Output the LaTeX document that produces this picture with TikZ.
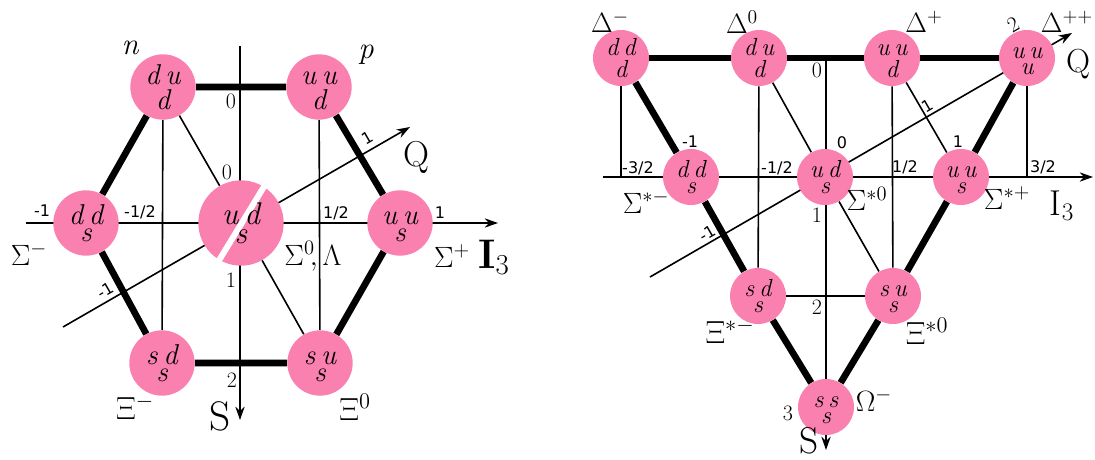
\RequirePackage{fix-cm}
\documentclass[tikz,border=0pt]{standalone}
\usepackage{fontspec}
\usepackage{amsmath}
\usetikzlibrary{arrows.meta, backgrounds}
\newfontfamily\ticksans{DejaVu Sans}
\definecolor{quarkpink}{RGB}{250,128,176}
\newcommand{\quarks}[3]{\shortstack{\itshape\vphantom{d}#1\hspace{0.2em}#2\\[0.5pt]\itshape #3}}

\begin{document}
\begin{tikzpicture}[x=0.75pt, y=-0.75pt,
  baryon/.style={circle, fill=quarkpink, inner sep=0pt, minimum size=49pt, font=\fontsize{21.5}{24}\selectfont},
  bigbaryon/.style={baryon, minimum size=64pt},
  decbaryon/.style={baryon, minimum size=42pt, font=\fontsize{18.5}{21}\selectfont},
  heavy/.style={line width=5pt},
  thinline/.style={line width=1.2pt},
  axis/.style={line width=1.2pt, -{Stealth[length=10pt, width=7pt]}},
  isolab/.style={font=\ticksans\fontsize{12}{14}\selectfont, inner sep=0pt},
  strlab/.style={font=\fontsize{16.5}{18}\selectfont, inner sep=0pt},
  partlab/.style={font=\fontsize{22}{24}\selectfont, inner sep=0pt},
  axislab/.style={font=\fontsize{28}{30}\selectfont, inner sep=0pt}]
  \useasboundingbox (0,0) rectangle (1095,460);

  % ===== octet =====
  \node[baryon] (n) at (163,87) {\quarks{d}{u}{d}};
  \node[baryon] (p) at (319,87) {\quarks{u}{u}{d}};
  \node[baryon] (sigm) at (86,223) {\quarks{d}{d}{s}};
  \node[baryon] (sigp) at (400,223) {\quarks{u}{u}{s}};
  \node[baryon] (xim) at (162,363) {\quarks{s}{d}{s}};
  \node[baryon] (xi0) at (320,363) {\quarks{s}{u}{s}};

  % Sigma0 and Lambda share the centre
  \node[bigbaryon] (lam) at (241,223) {};
  \draw[white, line width=4.5pt, line cap=round] (265,185) -- (218,262);
  \node[font=\fontsize{23.5}{26}\selectfont, inner sep=0pt] (lamtxt) at (lam) {\quarks{u}{d}{s}};

  % axes
  \coordinate (oi3a) at (26,223);
  \coordinate (oi3b) at (498,223);
  \coordinate (osa) at (240,46);
  \coordinate (osb) at (240,420);
  \coordinate (oqa) at (63,327);
  \coordinate (oqb) at (410,127);

  \begin{scope}[on background layer]
    \draw[axis] (oi3a) -- (oi3b);
    \draw[axis] (osa) -- (osb);
    \draw[axis] (oqa) -- (oqb);
    \draw[thinline] (n) -- (xim);
    \draw[thinline] (p) -- (xi0);
    \draw[thinline] (n) -- (lam) -- (xi0);
    \draw[heavy] (n) -- (p) -- (sigp) -- (xi0) -- (xim) -- (sigm) -- (n);
  \end{scope}

  % values
  \node[isolab] (ot1) at (42,211) {-1};
  \node[isolab] (ot2) at (140,212) {-1/2};
  \node[isolab] (ot3) at (336,213) {1/2};
  \node[isolab] (ot4) at (440,213) {1};
  \node[strlab] (os0) at (231,101) {0};
  \node[strlab] (oq0) at (227,172) {0};
  \node[strlab] (os1) at (231,280) {1};
  \node[strlab] (os2) at (232,380) {2};
  \node[isolab, rotate=30] (oq1) at (367,138) {1};
  \node[isolab, rotate=30] (oqm) at (105,290) {-1};

  % names
  \node[partlab, font=\fontsize{23}{25}\selectfont\itshape] (ln) at (130,48) {n};
  \node[partlab, font=\fontsize{23}{25}\selectfont\itshape] (lp) at (366,55) {p};
  \node[partlab] (lsigm) at (29,254) {$\Sigma^-$};
  \node[partlab] (llam) at (313,256) {$\Sigma^0\!,\Lambda$};
  \node[partlab] (lsigp) at (452,256) {$\Sigma^+$};
  \node[partlab, font=\fontsize{24}{26}\selectfont] (lxim) at (135,407) {$\Xi^-$};
  \node[partlab, font=\fontsize{24}{26}\selectfont] (lxi0) at (355,407) {$\Xi^0$};
  \node[axislab, font=\fontsize{31}{33}\selectfont] (os) at (220,416) {S};
  \node[axislab, font=\fontsize{27}{29}\selectfont] (oq) at (416,157) {Q};
  \node[axislab, font=\fontsize{31}{33}\selectfont] (oi3) at (494,257) {\textbf{I}$_3$};

  % ===== decuplet =====
  \node[decbaryon] (dm) at (621,58) {\quarks{d}{d}{d}};
  \node[decbaryon] (d0) at (759,58) {\quarks{d}{u}{d}};
  \node[decbaryon] (dp) at (892,58) {\quarks{u}{u}{d}};
  \node[decbaryon] (dpp) at (1027,58) {\quarks{u}{u}{u}};
  \node[decbaryon] (ssm) at (691,177) {\quarks{d}{d}{s}};
  \node[decbaryon] (ss0) at (825,177) {\quarks{u}{d}{s}};
  \node[decbaryon] (ssp) at (961,177) {\quarks{u}{u}{s}};
  \node[decbaryon] (xsm) at (758,296) {\quarks{s}{d}{s}};
  \node[decbaryon] (xs0) at (893,296) {\quarks{s}{u}{s}};
  \node[decbaryon] (om) at (826,407) {\quarks{s}{s}{s}};

  % axes
  \coordinate (di3a) at (603,177);
  \coordinate (di3b) at (1093,177);
  \coordinate (dsa) at (826,58);
  \coordinate (dsb) at (826,450);
  \coordinate (dqa) at (650,277);
  \coordinate (dqb) at (1072,33);

  \begin{scope}[on background layer]
    \draw[axis] (di3a) -- (di3b);
    \draw[axis] (dsa) -- (dsb);
    \draw[axis] (dqa) -- (dqb);
    \draw[thinline] (dm) -- (dm |- ssm);
    \draw[thinline] (dpp) -- (dpp |- ssp);
    \draw[thinline] (d0) -- (xsm);
    \draw[thinline] (dp) -- (xs0);
    \draw[thinline] (xsm) -- (xs0);
    \draw[thinline] (d0) -- (ss0) -- (xs0);
    \draw[thinline] (dp) -- (ssp);
    \draw[heavy] (dm) -- (d0) -- (dp) -- (dpp);
    \draw[heavy] (dm) -- (ssm) -- (xsm) -- (om);
    \draw[heavy] (dpp) -- (ssp) -- (xs0) -- (om);
  \end{scope}

  % values
  \node[isolab] (dt1) at (638,168) {-3/2};
  \node[isolab] (dt2) at (777,168) {-1/2};
  \node[isolab] (dt3) at (905,167) {1/2};
  \node[isolab] (dt4) at (1043,167) {3/2};
  \node[isolab] (dc1) at (690,142) {-1};
  \node[isolab] (dc2) at (842,143) {0};
  \node[isolab] (dc3) at (958,142) {1};
  \node[strlab] (ds0) at (817,70) {0};
  \node[strlab] (ds1) at (817,215) {1};
  \node[strlab] (ds2) at (817,307) {2};
  \node[strlab] (ds3) at (788,413) {3};
  \node[isolab, rotate=30] (dqm) at (707,233) {-1};
  \node[isolab, rotate=30] (dq1) at (927,106) {1};
  \node[strlab, rotate=30] (dq2) at (1013,25) {2};

  % names
  \node[partlab, font=\fontsize{21}{23}\selectfont] (ldm) at (610,22) {$\Delta^-$};
  \node[partlab, font=\fontsize{21}{23}\selectfont] (ld0) at (742,22) {$\Delta^0$};
  \node[partlab, font=\fontsize{21}{23}\selectfont] (ldp) at (924,22) {$\Delta^+$};
  \node[partlab, font=\fontsize{21}{23}\selectfont] (ldpp) at (1067,22) {$\Delta^{++}$};
  \node[partlab] (lssm) at (646,202) {$\Sigma^{*-}$};
  \node[partlab] (lss0) at (867,199) {$\Sigma^{*0}$};
  \node[partlab] (lssp) at (1007,198) {$\Sigma^{*+}$};
  \node[partlab, font=\fontsize{24}{26}\selectfont] (lxsm) at (730,331) {$\Xi^{*-}$};
  \node[partlab, font=\fontsize{24}{26}\selectfont] (lxs0) at (927,331) {$\Xi^{*0}$};
  \node[partlab] (lom) at (874,400) {$\Omega^-$};
  \node[axislab] (ds) at (809,441) {S};
  \node[axislab, font=\fontsize{25}{27}\selectfont] (dq) at (1078,64) {Q};
  \node[axislab, font=\fontsize{27}{29}\selectfont] (di3) at (1062,206) {I$_3$};
\end{tikzpicture}
\end{document}
